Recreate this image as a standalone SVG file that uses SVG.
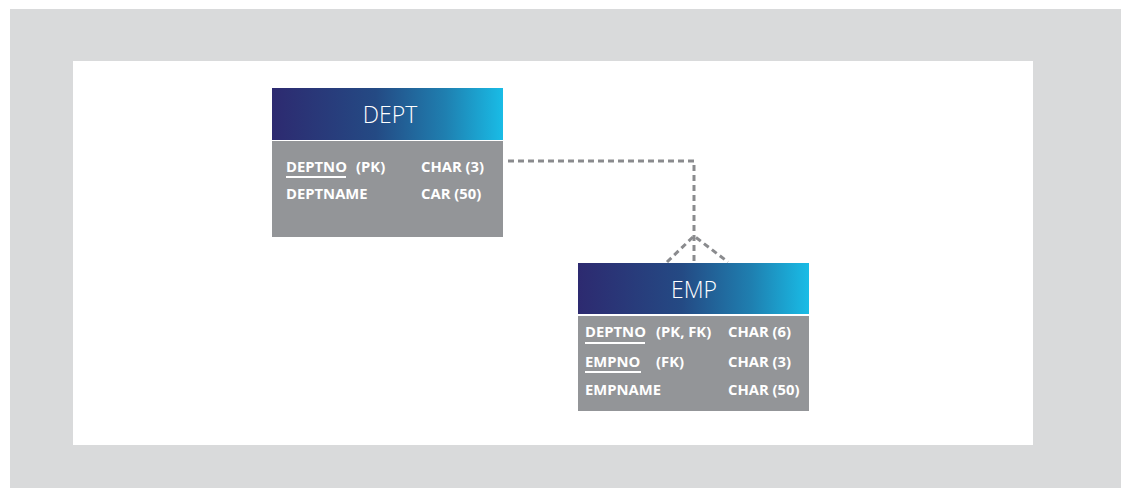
<svg xmlns="http://www.w3.org/2000/svg" width="1127" height="488" viewBox="0 0 1127 488">
<defs>
<linearGradient id="hdr" x1="0" y1="0" x2="1" y2="0">
<stop offset="0" stop-color="#2d2a70"/>
<stop offset="0.45" stop-color="#244a84"/>
<stop offset="0.75" stop-color="#1f7fb0"/>
<stop offset="1" stop-color="#19bce6"/>
</linearGradient>
<style>
.hdr{fill:url(#hdr)}
.body{fill:#939598}
.title{font-family:"Open Sans","Noto Sans",sans-serif;font-size:23px;font-weight:300;fill:#ffffff}
.f{font-family:"Open Sans","Noto Sans",sans-serif;font-size:14.8px;font-weight:700;fill:#ffffff}
.ul{stroke:#ffffff;stroke-width:2}
.conn{fill:none;stroke:#8a8b8e;stroke-width:3;stroke-dasharray:6 4}
</style>
</defs>
<rect x="0" y="0" width="1127" height="488" fill="#ffffff"/>
<rect x="10" y="9" width="1111" height="479" fill="#d9dadb"/>
<rect x="73" y="61" width="960" height="384" fill="#ffffff"/>
<g id="connectors">
<path class="conn" d="M508 161 H694 V263"/>
<path class="conn" d="M667 262 L694 236 L728 262"/>
</g>
<g id="dept">
<rect class="hdr" x="272" y="88" width="231" height="52"/>
<rect class="body" x="272" y="141" width="231" height="96"/>
<text class="title" x="390" y="123" text-anchor="middle">DEPT</text>
<text class="f" x="286" y="172">DEPTNO</text>
<line class="ul" x1="286" y1="177" x2="346" y2="177"/>
<text class="f" x="356" y="172">(PK)</text>
<text class="f" x="421" y="172">CHAR (3)</text>
<text class="f" x="286" y="199">DEPTNAME</text>
<text class="f" x="421" y="199">CAR (50)</text>
</g>
<g id="emp">
<rect class="hdr" x="578" y="263" width="231" height="51"/>
<rect class="body" x="578" y="316" width="231" height="95"/>
<text class="title" x="694" y="298" text-anchor="middle">EMP</text>
<text class="f" x="585" y="337">DEPTNO</text>
<line class="ul" x1="585" y1="343" x2="645" y2="343"/>
<text class="f" x="656" y="337">(PK, FK)</text>
<text class="f" x="728" y="337">CHAR (6)</text>
<text class="f" x="585" y="367">EMPNO</text>
<line class="ul" x1="585" y1="372" x2="641" y2="372"/>
<text class="f" x="656" y="367">(FK)</text>
<text class="f" x="728" y="367">CHAR (3)</text>
<text class="f" x="585" y="395">EMPNAME</text>
<text class="f" x="728" y="395">CHAR (50)</text>
</g>
</svg>
